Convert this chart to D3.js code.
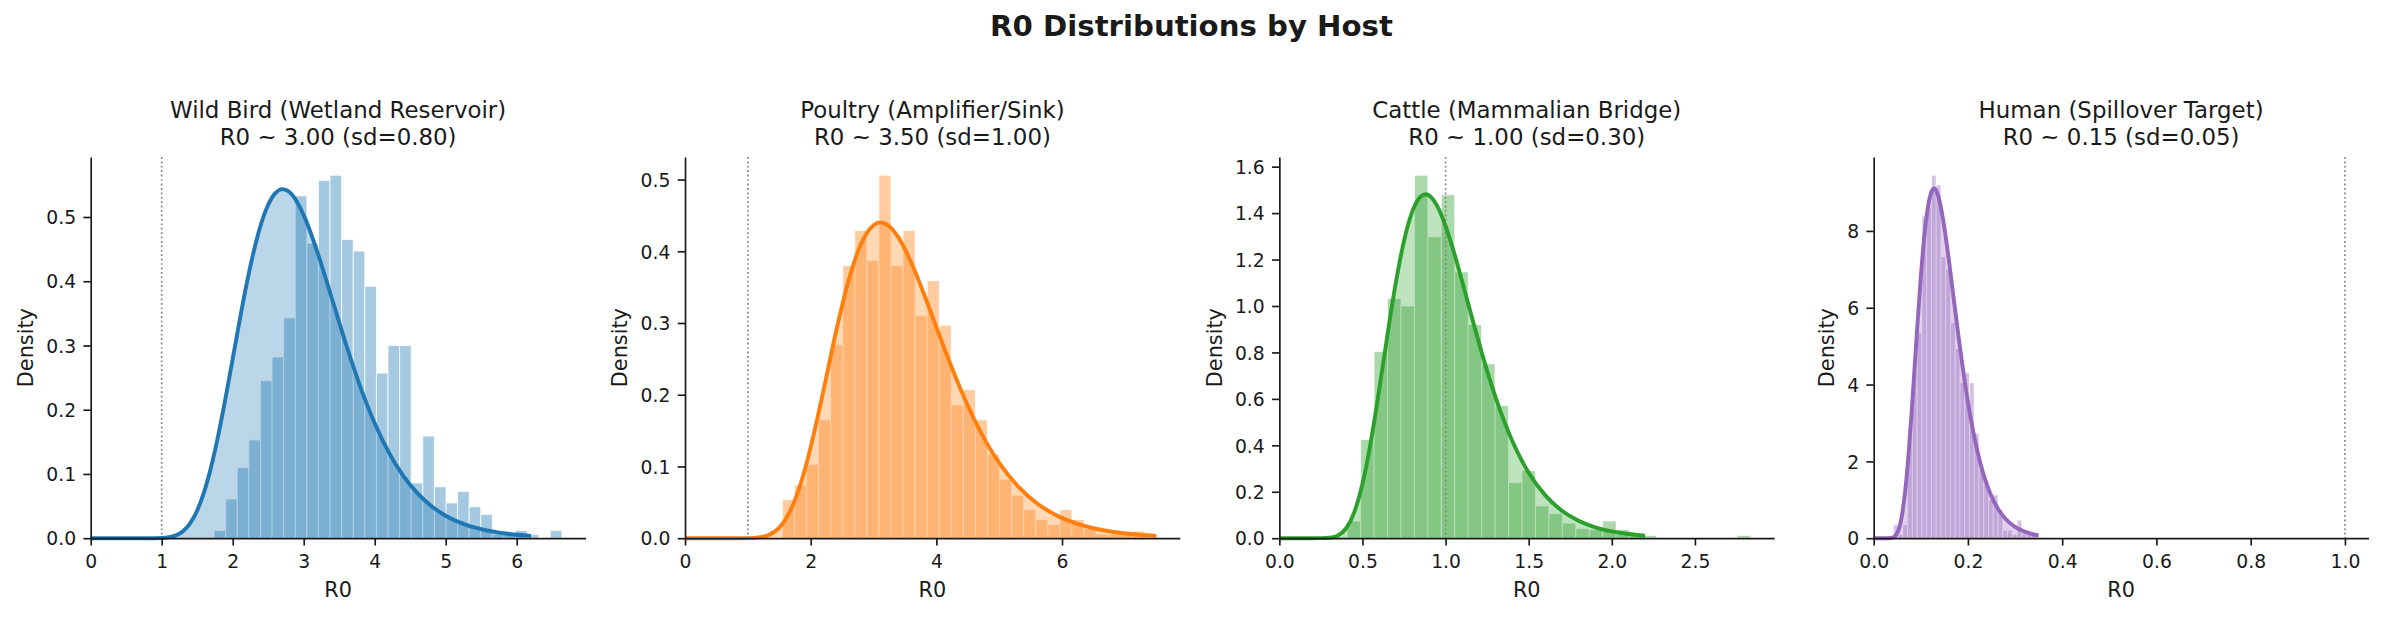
<!DOCTYPE html>
<html>
<head>
<meta charset="utf-8">
<script src="https://cdn.jsdelivr.net/npm/d3@7"></script>
<style>
  body { margin: 0; background: #fff; }
  text { font-family: "DejaVu Sans", sans-serif; }
</style>
</head>
<body>
<svg id="chart" width="2383" height="617"></svg>
<script>
// ---------------- DATA ----------------
const figTitle = "R0 Distributions by Host";
const hosts = ["Wild Bird (Wetland Reservoir)", "Poultry (Amplifier/Sink)", "Cattle (Mammalian Bridge)", "Human (Spillover Target)"];
const meanR0 = [3.00, 3.50, 1.00, 0.15];
const sdR0 = [0.80, 1.00, 0.30, 0.05];
const hostColors = ["#1f77b4", "#ff7f0e", "#2ca02c", "#9467bd"];
const threshold = 1.0;

// histogram: 30 bins each, first bin edge and bin width, densities per bin
const binStarts = [1.738, 1.550, 0.408, 0.0417];
const binWidths = [0.1633, 0.1920, 0.0809, 0.0101];

const wildBirdDensity = [0.012, 0.061, 0.110, 0.153, 0.245, 0.282, 0.343, 0.533, 0.459, 0.557,
                         0.565, 0.465, 0.447, 0.392, 0.257, 0.300, 0.300, 0.086, 0.159, 0.080,
                         0.055, 0.073, 0.049, 0.037, 0.006, 0.006, 0.012, 0.006, 0.000, 0.012];
const poultryDensity = [0.054, 0.074, 0.103, 0.165, 0.270, 0.380, 0.429, 0.387, 0.506, 0.380,
                        0.429, 0.310, 0.359, 0.297, 0.186, 0.207, 0.165, 0.117, 0.082, 0.060,
                        0.040, 0.026, 0.019, 0.040, 0.026, 0.013, 0.006, 0.006, 0.005, 0.010];
const cattleDensity = [0.074, 0.425, 0.804, 1.032, 1.000, 1.563, 1.298, 1.479, 1.147, 0.920,
                       0.751, 0.571, 0.239, 0.291, 0.139, 0.106, 0.065, 0.041, 0.037, 0.074,
                       0.037, 0.012, 0.012, 0.000, 0.000, 0.000, 0.000, 0.000, 0.000, 0.012];
const humanDensity = [0.35, 0.10, 0.35, 2.90, 4.40, 5.35, 8.39, 8.60, 9.45, 9.20,
                      7.33, 7.00, 5.61, 4.94, 4.05, 4.31, 4.05, 2.73, 1.80, 1.40,
                      1.00, 1.13, 0.74, 0.21, 0.21, 0.10, 0.47, 0.11, 0.10, 0.10];

// fitted density curves [R0, density]
const wildBirdCurve = [[0,0],[0.8,0],[1.0,0.0004],[1.1,0.0015],[1.2,0.0044],[1.3,0.0109],[1.4,0.0230],[1.5,0.0431],
  [1.6,0.0728],[1.7,0.1128],[1.8,0.1621],[1.9,0.2187],[2.0,0.2793],[2.1,0.3403],[2.2,0.3977],[2.3,0.4483],
  [2.4,0.4893],[2.5,0.5191],[2.6,0.5371],[2.7,0.5434],[2.8,0.5388],[3.0,0.5030],[3.2,0.4429],[3.4,0.3719],
  [3.6,0.3004],[3.8,0.2349],[4.0,0.1789],[4.2,0.1332],[4.4,0.0974],[4.6,0.0701],[4.8,0.0498],[5.0,0.0350],
  [5.3,0.0203],[5.6,0.0116],[5.9,0.0065],[6.2,0.0037]];
const poultryCurve = [[0,0],[0.8,0],[1.0,0.0001],[1.2,0.0014],[1.3,0.0034],[1.4,0.0076],[1.5,0.0148],[1.6,0.0263],
  [1.7,0.0429],[1.8,0.0653],[1.9,0.0934],[2.0,0.1268],[2.2,0.2047],[2.4,0.2865],[2.6,0.3584],[2.8,0.4100],
  [3.0,0.4364],[3.1,0.4401],[3.2,0.4379],[3.4,0.4186],[3.6,0.3843],[3.8,0.3411],[4.0,0.2944],[4.2,0.2480],
  [4.4,0.2048],[4.6,0.1662],[4.8,0.1329],[5.0,0.1049],[5.3,0.0722],[5.6,0.0487],[5.9,0.0324],[6.2,0.0213],
  [6.5,0.0139],[6.8,0.0090],[7.1,0.0058],[7.5,0.0032]];
const cattleCurve = [[0,0],[0.2,0],[0.25,0.0002],[0.3,0.0018],[0.35,0.0108],[0.4,0.0407],[0.45,0.1102],[0.5,0.2342],
  [0.55,0.4144],[0.6,0.6365],[0.65,0.8741],[0.7,1.0973],[0.75,1.2806],[0.8,1.4075],[0.85,1.4718],[0.88,1.4813],
  [0.9,1.4764],[0.95,1.4299],[1.0,1.3444],[1.05,1.2324],[1.1,1.1055],[1.15,0.9733],[1.2,0.8433],[1.25,0.7206],
  [1.3,0.6084],[1.35,0.5083],[1.4,0.4208],[1.45,0.3456],[1.5,0.2819],[1.6,0.1844],[1.7,0.1184],[1.8,0.0750],
  [1.9,0.0470],[2.0,0.0293],[2.1,0.0181],[2.2,0.0112]];
const humanCurve = [[0,0],[0.02,0],[0.03,0.0004],[0.04,0.0147],[0.05,0.1368],[0.06,0.5947],[0.07,1.6111],[0.08,3.1830],
  [0.09,5.0434],[0.10,6.8085],[0.11,8.1573],[0.12,8.9228],[0.128,9.105],[0.13,9.0946],[0.14,8.7679],[0.15,8.0869],
  [0.16,7.1967],[0.17,6.2220],[0.18,5.2539],[0.19,4.3509],[0.20,3.5464],[0.21,2.8526],[0.22,2.2696],[0.23,1.7896],
  [0.24,1.4006],[0.25,1.0893],[0.26,0.8431],[0.27,0.6499],[0.28,0.4992],[0.30,0.2924],[0.32,0.1702],[0.35,0.0752]];

const wildBirdXTicks = [0, 1, 2, 3, 4, 5, 6];
const poultryXTicks = [0, 2, 4, 6];
const cattleXTicks = [0, 0.5, 1.0, 1.5, 2.0, 2.5];
const humanXTicks = [0, 0.2, 0.4, 0.6, 0.8, 1.0];
const wildBirdYTicks = [0, 0.1, 0.2, 0.3, 0.4, 0.5];
const poultryYTicks = [0, 0.1, 0.2, 0.3, 0.4, 0.5];
const cattleYTicks = [0, 0.2, 0.4, 0.6, 0.8, 1.0, 1.2, 1.4, 1.6];
const humanYTicks = [0, 2, 4, 6, 8];
const xTickFormats = ["d", "d", ".1f", ".1f"];
const yTickFormats = [".1f", ".1f", ".1f", "d"];
const xLabel = "R0";
const yLabel = "Density";

// ---------------- DRAW ----------------
const densities = [wildBirdDensity, poultryDensity, cattleDensity, humanDensity];
const curves = [wildBirdCurve, poultryCurve, cattleCurve, humanCurve];
const xTicksAll = [wildBirdXTicks, poultryXTicks, cattleXTicks, humanXTicks];
const yTicksAll = [wildBirdYTicks, poultryYTicks, cattleYTicks, humanYTicks];

const W = 2383, H = 617;
const svg = d3.select("#chart");
svg.append("rect").attr("width", W).attr("height", H).attr("fill", "#fff");

const ink = "#1a1a1a";
const tickFont = 18.75, labelFont = 20.8, subFont = 22.9, titleFont = 29.2;
const tickLen = 7.3, tickPad = 7.3, spineW = 1.67;

svg.append("text")
  .attr("x", W / 2).attr("y", 36)
  .attr("text-anchor", "middle")
  .attr("font-size", titleFont).attr("font-weight", "bold").attr("fill", ink)
  .text(figTitle);

const plotTop = 157.1, plotBottom = 538.2, plotW = 494.8;
const firstLeft = 90.7, panelStep = 594.33;

hosts.forEach((host, i) => {
  const left = firstLeft + i * panelStep;
  const g = svg.append("g").attr("transform", `translate(${left},0)`);
  const color = hostColors[i];
  const dens = densities[i];
  const curve = curves[i];

  const bins = dens.map((d, k) => ({
    x0: binStarts[i] + k * binWidths[i],
    x1: binStarts[i] + (k + 1) * binWidths[i],
    d: d
  }));
  const histEnd = binStarts[i] + dens.length * binWidths[i];
  const dataMax = Math.max(histEnd, d3.max(curve, c => c[0]), threshold);
  const x = d3.scaleLinear().domain([0, dataMax * 1.05]).range([0, plotW]);
  const yMax = Math.max(d3.max(dens), d3.max(curve, c => c[1])) * 1.05;
  const y = d3.scaleLinear().domain([0, yMax]).range([plotBottom, plotTop]);

  // histogram bars
  g.append("g").selectAll("rect")
    .data(bins.filter(b => b.d > 0))
    .join("rect")
    .attr("x", b => x(b.x0))
    .attr("width", b => x(b.x1) - x(b.x0))
    .attr("y", b => y(b.d))
    .attr("height", b => y(0) - y(b.d))
    .attr("fill", color).attr("fill-opacity", 0.4)
    .attr("stroke", "#fff").attr("stroke-opacity", 0.75).attr("stroke-width", 1);

  // filled area under fitted curve
  const area = d3.area()
    .x(c => x(c[0])).y0(y(0)).y1(c => y(c[1]))
    .curve(d3.curveMonotoneX);
  g.append("path").datum(curve)
    .attr("d", area)
    .attr("fill", color).attr("fill-opacity", 0.3);

  // threshold line
  g.append("line")
    .attr("x1", x(threshold)).attr("x2", x(threshold))
    .attr("y1", plotTop).attr("y2", plotBottom)
    .attr("stroke", "#808080").attr("stroke-width", 1.67)
    .attr("stroke-dasharray", "1.67,2.75");

  // fitted curve line
  const line = d3.line()
    .x(c => x(c[0])).y(c => y(c[1]))
    .curve(d3.curveMonotoneX);
  g.append("path").datum(curve)
    .attr("d", line)
    .attr("fill", "none").attr("stroke", color)
    .attr("stroke-width", 3.9).attr("stroke-linejoin", "round").attr("stroke-linecap", "butt");

  // axes
  const xAxis = d3.axisBottom(x)
    .tickValues(xTicksAll[i])
    .tickFormat(d3.format(xTickFormats[i]))
    .tickSize(tickLen).tickSizeOuter(0).tickPadding(9.2);
  const xg = g.append("g").attr("transform", `translate(0,${plotBottom})`).call(xAxis);

  const yAxis = d3.axisLeft(y)
    .tickValues(yTicksAll[i])
    .tickFormat(d3.format(yTickFormats[i]))
    .tickSize(tickLen).tickSizeOuter(0).tickPadding(tickPad);
  const yg = g.append("g").call(yAxis);

  [xg, yg].forEach(ax => {
    ax.attr("font-size", tickFont).attr("font-family", '"DejaVu Sans", sans-serif');
    ax.select(".domain").attr("stroke", ink).attr("stroke-width", spineW);
    ax.selectAll(".tick line").attr("stroke", ink).attr("stroke-width", spineW);
    ax.selectAll(".tick text").attr("fill", ink);
  });
  yg.selectAll(".tick text").attr("dy", "0.36em");

  // x label
  g.append("text")
    .attr("x", plotW / 2).attr("y", 597)
    .attr("text-anchor", "middle")
    .attr("font-size", labelFont).attr("fill", ink)
    .text(xLabel);

  // y label placed left of widest tick label
  let maxW = 0;
  yg.selectAll(".tick text").each(function () {
    maxW = Math.max(maxW, this.getBBox().width);
  });
  const yLabX = -(tickLen + tickPad + maxW + 8.3 + 4.9);
  g.append("text")
    .attr("transform", `translate(${yLabX},${(plotTop + plotBottom) / 2}) rotate(-90)`)
    .attr("text-anchor", "middle")
    .attr("font-size", labelFont).attr("fill", ink)
    .text(yLabel);

  // subtitle
  const cx = plotW / 2;
  const sub = g.append("text")
    .attr("text-anchor", "middle")
    .attr("font-size", subFont).attr("fill", ink);
  sub.append("tspan").attr("x", cx).attr("y", 117.5).text(host);
  sub.append("tspan").attr("x", cx).attr("y", 145)
    .text(`R0 ~ ${meanR0[i].toFixed(2)} (sd=${sdR0[i].toFixed(2)})`);
});
</script>
</body>
</html>
